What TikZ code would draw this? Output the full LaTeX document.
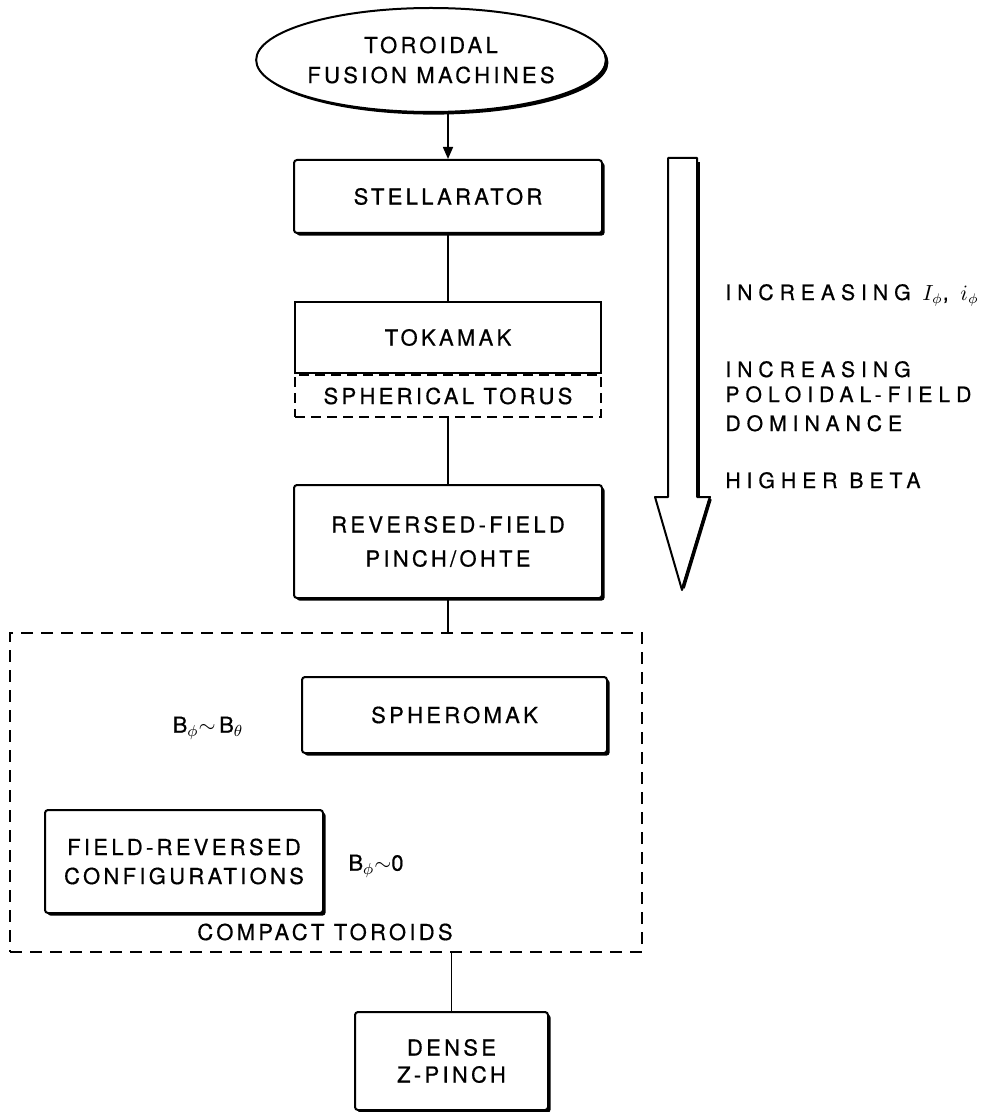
\documentclass[tikz,border=0pt]{standalone}
\usepackage{fontspec}
\newfontfamily\lab{TeX Gyre Heros}[LetterSpace=15,FakeBold=0.6]
\newfontfamily\rlab{TeX Gyre Heros}[LetterSpace=28,FakeBold=0.6]
\usetikzlibrary{shapes.geometric,arrows.meta,shadows}
\begin{document}
\begin{tikzpicture}[x=0.5pt,y=-0.5pt,
  lbl/.style={font=\lab\fontsize{11}{13.5}\selectfont, inner sep=0pt},
  rlbl/.style={font=\rlab\fontsize{10.6}{13.5}\selectfont, inner sep=0pt, anchor=base west},
  plainbox/.style={draw, line width=1pt, fill=white, align=center, inner sep=0pt,
    font=\lab\fontsize{11}{13.5}\selectfont},
  shbox/.style={plainbox, rounded corners=1.5pt,
    drop shadow={shadow xshift=1.3pt, shadow yshift=-1.3pt, opacity=1, fill=black}},
  dbox/.style={draw, line width=1pt, dash pattern=on 6pt off 4pt, align=center, inner sep=0pt,
    font=\lab\fontsize{11}{13.5}\selectfont},
  conn/.style={line width=0.8pt}]
\useasboundingbox (0,0) rectangle (1004,1112);

% main column
\node[shbox, ellipse, minimum width=138pt, minimum height=52pt] (tfm) at (431,60)
  {TOROIDAL\\[1.5pt]FUSION MACHINES};
\node[shbox, minimum width=154pt, minimum height=36.5pt] (stel) at (448,196.5) {STELLARATOR};
\node[plainbox, minimum width=153pt, minimum height=35.5pt] (tok) at (448,337.5) {TOKAMAK};
\node[dbox, dash pattern=on 5pt off 3pt, minimum width=153pt, minimum height=21pt, anchor=north]
  (st) at (tok.south) {SPHERICAL TORUS};
\node[shbox, minimum width=154pt, minimum height=56.5pt] (rfp) at (448,541.5)
  {REVERSED-FIELD\\[3.5pt]PINCH/OHTE};

% compact toroids group
\node[dbox, minimum width=316pt, minimum height=159.5pt] (ct) at (326,792.5) {};
\node[shbox, minimum width=152.5pt, minimum height=38pt] (sphk) at (454.5,715) {SPHEROMAK};
\node[shbox, minimum width=139pt, minimum height=51.5pt] (frc) at (184,861.5)
  {FIELD-REVERSED\\[1pt]CONFIGURATIONS};
\node[lbl] (bb) at (208,728) {B$_{\phi}{\sim}$\,B$_{\theta}$};
\node[lbl] (b0) at (376,866) {B$_{\phi}{\sim}$0};
\node[lbl] (ctl) at (325,932) {COMPACT TOROIDS};

\node[shbox, minimum width=96.5pt, minimum height=49pt] (dense) at (451.5,1061)
  {DENSE\\[0pt]Z-PINCH};

% connectors
\draw[conn,-{Triangle[length=6pt,width=5pt]}] (stel.north |- tfm.south) -- (stel.north);
\draw[conn] (stel) -- (tok);
\draw[conn] (st) -- (rfp);
\draw[conn] (rfp.south) -- (rfp.south |- ct.north);
\draw[conn] (dense.north) -- (dense.north |- ct.south);

% big arrow
\draw[line width=1pt, line join=round] (668,158) -- (668,497) -- (655,497) -- (682,590)
  -- (710,497) -- (697,497) -- (697,158) -- cycle;
\draw[line width=2.2pt, line join=round] (698,162) -- (698,497);
\draw[line width=1.8pt, line join=round] (710,499) -- (683,588);

% right texts
\node[rlbl] (t1) at (725,300) {INCREASING $I_{\phi}$, $i_{\phi}$};
\node[rlbl] (t2) at (725,377) {INCREASING};
\node[rlbl] (t3) at (725,402) {POLOIDAL-FIELD};
\node[rlbl] (t4) at (725,431) {DOMINANCE};
\node[rlbl] (t5) at (725,488) {HIGHER BETA};
\end{tikzpicture}
\end{document}
